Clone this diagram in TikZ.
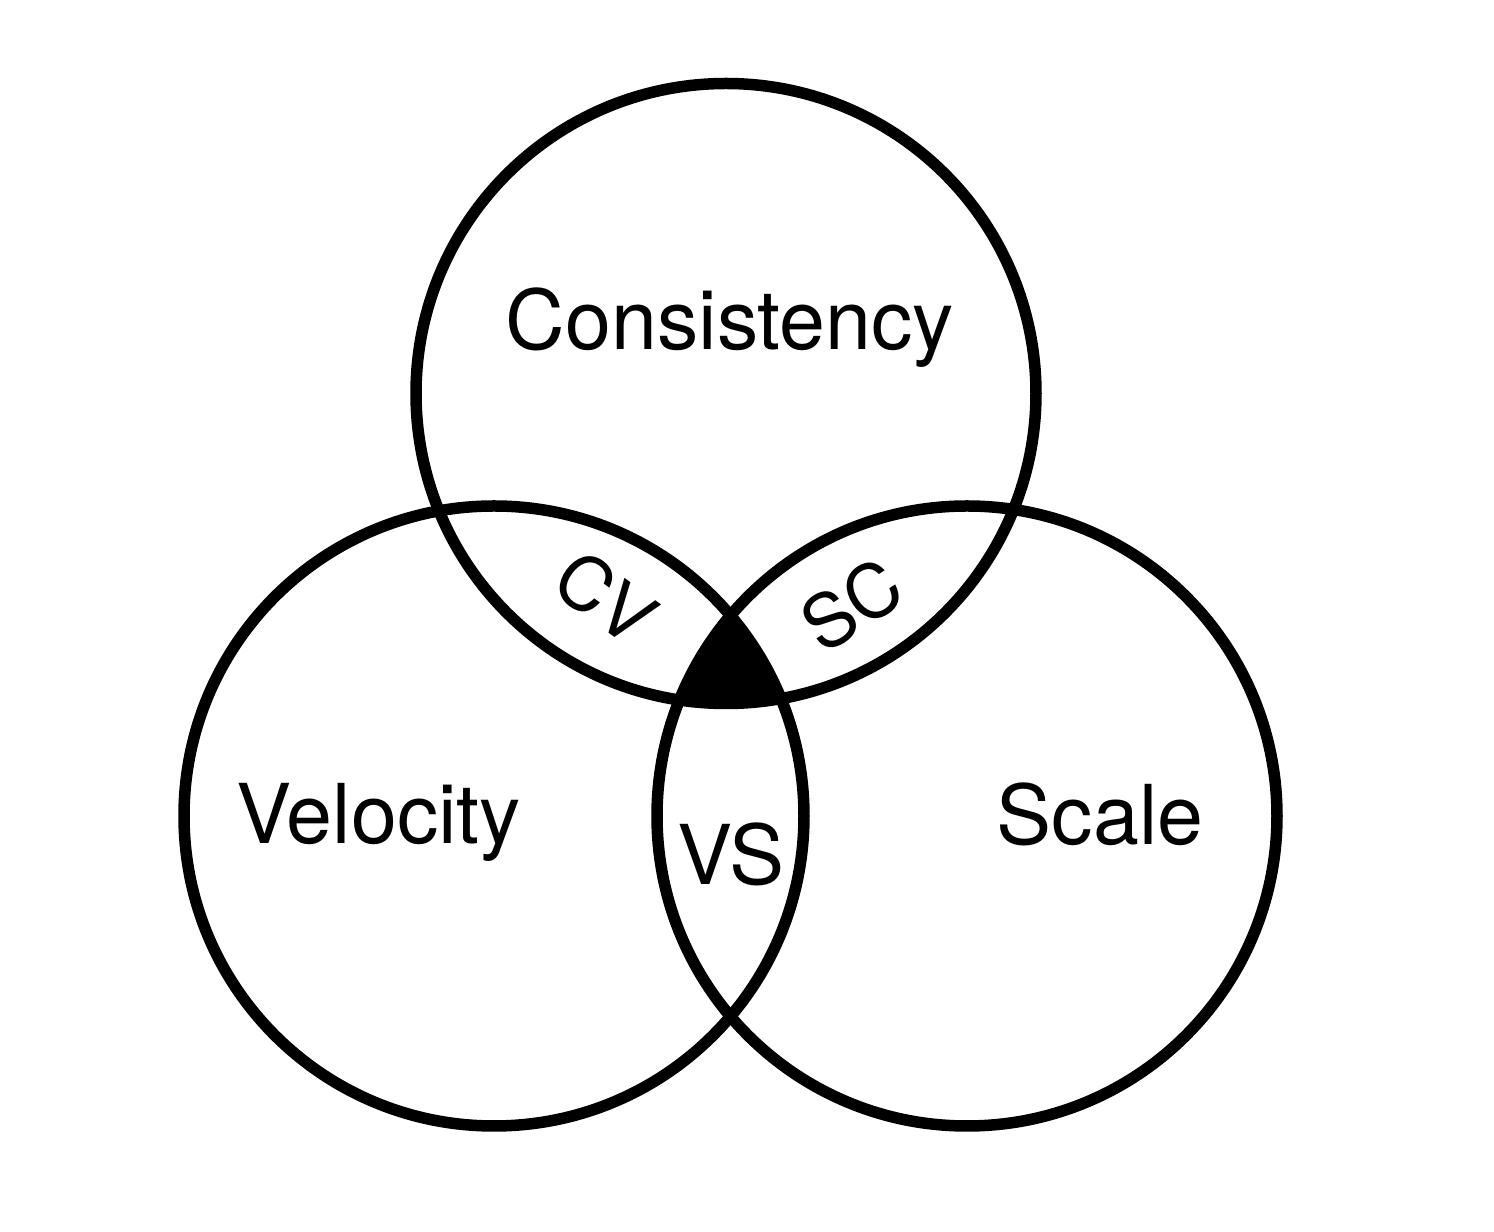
\documentclass[tikz,border=0pt]{standalone}
\usepackage{fontspec}
\setmainfont{TeX Gyre Heros}
\usetikzlibrary{positioning}
\tikzset{
  venn/.style={circle,draw=black,line width=1.15mm,minimum size=62mm,inner sep=0pt},
  setlab/.style={font=\fontsize{23.5}{27}\selectfont,anchor=base},
  pairlab/.style={font=\fontsize{21}{25}\selectfont,inner sep=0pt}
}
\begin{document}
\begin{tikzpicture}
  \useasboundingbox (0,0) rectangle (14.94,12.32);
  % centre triple region
  \begin{scope}
    \clip (7.26,8.385) circle (3.1);
    \clip (4.94,4.16) circle (3.1);
    \fill[black] (9.67,4.16) circle (3.1);
  \end{scope}
  \node[venn] (C) at (7.26,8.385) {};
  \node[venn] (V) at (4.94,4.16) {};
  \node[venn] (S) at (9.67,4.16) {};
  \node[setlab] (lc) at (7.30,8.82) {Consistency};
  \node[setlab] (lv) at (3.785,3.88) {Velocity};
  \node[setlab] (ls) at (11.00,3.87) {Scale};
  \node[setlab] (lvs) at (7.31,3.47) {VS};
  \node[pairlab,rotate=-36] (lcv) at (6.06,6.34) {CV};
  \node[pairlab,rotate=33] (lsc) at (8.52,6.27) {SC};
\end{tikzpicture}
\end{document}
